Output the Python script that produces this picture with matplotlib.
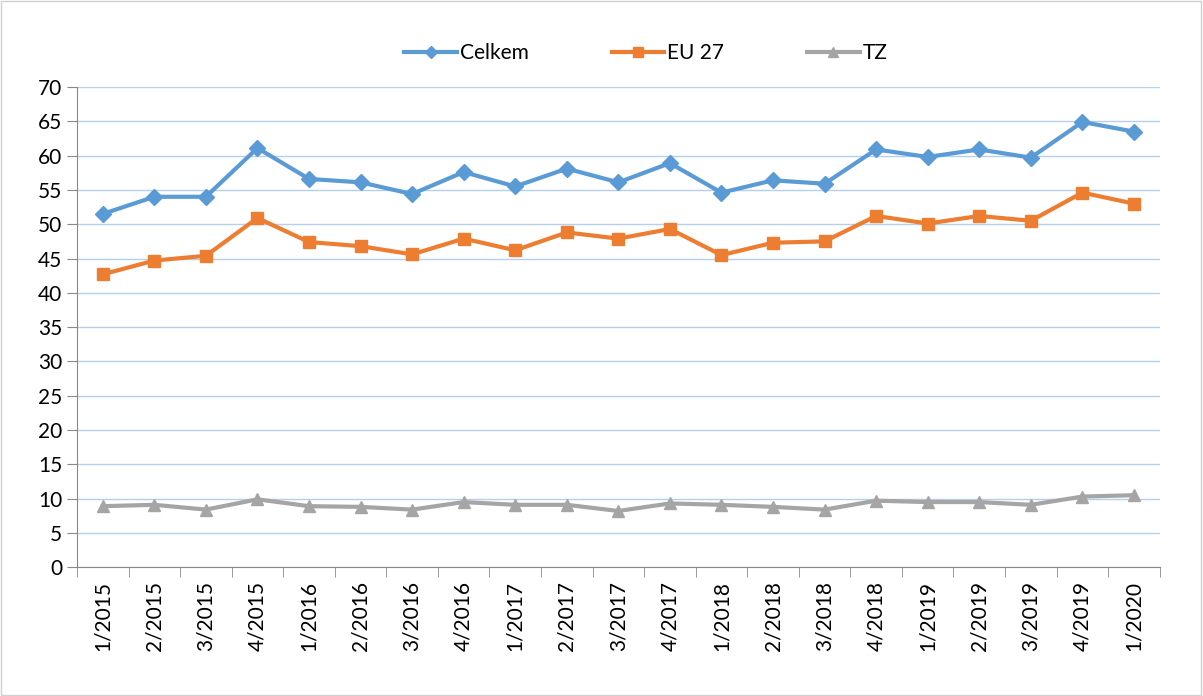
import matplotlib.pyplot as plt
from matplotlib.patches import Rectangle

plt.rcParams["font.family"] = ["Lato", "DejaVu Sans"]

quarters = ["1/2015", "2/2015", "3/2015", "4/2015", "1/2016", "2/2016", "3/2016",
            "4/2016", "1/2017", "2/2017", "3/2017", "4/2017", "1/2018", "2/2018",
            "3/2018", "4/2018", "1/2019", "2/2019", "3/2019", "4/2019", "1/2020"]
celkem = [51.5, 54.0, 54.0, 61.1, 56.6, 56.1, 54.4, 57.6, 55.5, 58.1, 56.1, 58.9,
          54.6, 56.4, 55.9, 60.9, 59.8, 60.9, 59.7, 64.9, 63.5]
eu27 = [42.7, 44.7, 45.4, 50.9, 47.4, 46.8, 45.6, 47.9, 46.2, 48.8, 47.9, 49.3,
        45.5, 47.3, 47.5, 51.2, 50.1, 51.2, 50.5, 54.6, 53.0]
tz = [8.9, 9.1, 8.4, 9.9, 8.9, 8.8, 8.4, 9.5, 9.1, 9.1, 8.2, 9.3,
      9.1, 8.8, 8.4, 9.7, 9.5, 9.5, 9.1, 10.3, 10.5]

fig = plt.figure(figsize=(12.03, 6.96), dpi=100)
ax = fig.add_axes([0.064, 0.185, 0.9, 0.69])
fig.patches.append(Rectangle((0.001, 0.001), 0.997, 0.997, transform=fig.transFigure,
                             fill=False, edgecolor="#d0d0d0", linewidth=1))

x = list(range(len(quarters)))
ax.plot(x, celkem, color="#5b9bd5", lw=3, marker="D", ms=8, label="Celkem")
ax.plot(x, eu27, color="#ed7d31", lw=3, marker="s", ms=9, label="EU 27")
ax.plot(x, tz, color="#a5a5a5", lw=3, marker="^", ms=9, label="TZ")

ax.set_xlim(-0.5, len(quarters) - 0.5)
ax.set_ylim(0, 70)
ax.set_yticks(range(0, 71, 5))
ax.set_xticks(x)
ax.set_xticklabels(quarters, rotation=90)
ax.set_xticks([i - 0.5 for i in range(len(quarters) + 1)], minor=True)
ax.tick_params(axis="x", which="major", length=0, pad=10, labelsize=15, colors="#000000")
ax.tick_params(axis="x", which="minor", length=7, color="#888888")
ax.tick_params(axis="y", length=7, color="#888888", labelsize=15)

ax.grid(axis="y", color="#b4d0ee", lw=1)
ax.set_axisbelow(True)
for s in ["top", "right"]:
    ax.spines[s].set_visible(False)
ax.spines["left"].set_color("#888888")
ax.spines["bottom"].set_color("#888888")

fig.legend(loc="upper center", bbox_to_anchor=(0.537, 0.965), ncol=3, frameon=False,
           fontsize=15, handlelength=2.5, handletextpad=0.15, columnspacing=4.0,
           markerscale=0.8)

plt.savefig("out.png")
